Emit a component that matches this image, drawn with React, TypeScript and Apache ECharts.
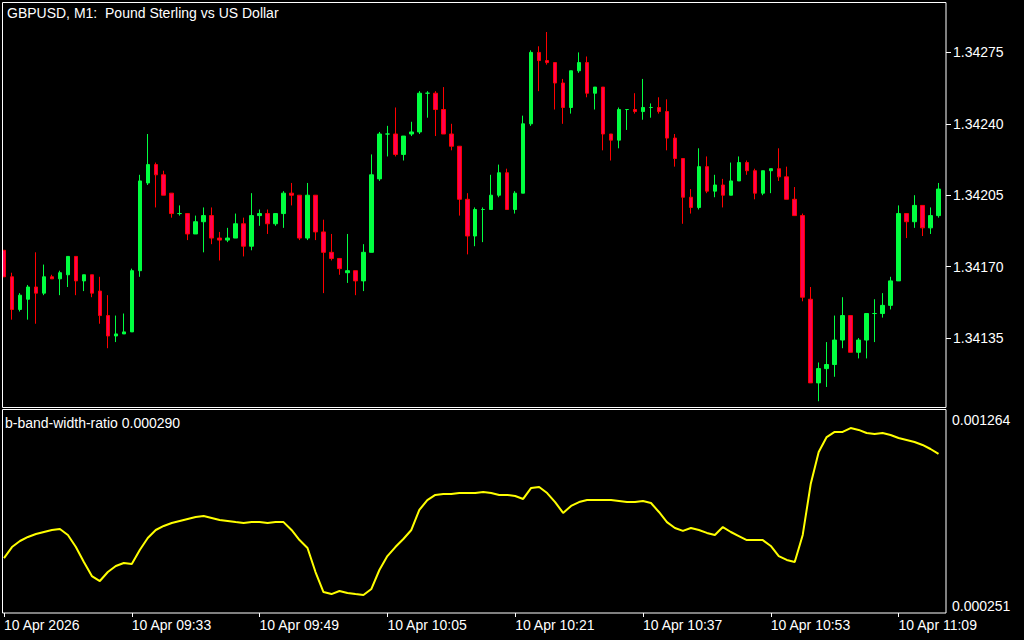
import React, { useEffect, useRef } from 'react';
import * as echarts from 'echarts';

const opens = [1.34178,1.34165,1.34149,1.34154,1.34160,1.34157,1.34165,1.34164,1.34166,1.34175,1.34163,1.34166,1.34158,1.34146,1.34136,1.34137,1.34138,1.34168,1.34211,1.34220,1.34215,1.34206,1.34196,1.34196,1.34186,1.34192,1.34195,1.34184,1.34183,1.34184,1.34191,1.34180,1.34195,1.34196,1.34191,1.34196,1.34206,1.34205,1.34184,1.34205,1.34187,1.34177,1.34174,1.34167,1.34168,1.34163,1.34177,1.34213,1.34235,1.34235,1.34225,1.34235,1.34236,1.34255,1.34255,1.34247,1.34235,1.34229,1.34203,1.34185,1.34198,1.34198,1.34205,1.34216,1.34198,1.34206,1.34240,1.34275,1.34271,1.34270,1.34260,1.34248,1.34266,1.34270,1.34255,1.34258,1.34235,1.34232,1.34247,1.34247,1.34246,1.34248,1.34248,1.34246,1.34233,1.34223,1.34204,1.34199,1.34219,1.34207,1.34210,1.34205,1.34212,1.34221,1.34217,1.34206,1.34217,1.34218,1.34214,1.34203,1.34195,1.34154,1.34113,1.34120,1.34122,1.34134,1.34146,1.34128,1.34134,1.34147,1.34147,1.34151,1.34163,1.34196,1.34192,1.34200,1.34189,1.34195];
const highs = [1.34178,1.34167,1.34157,1.34161,1.34177,1.34171,1.34166,1.34168,1.34175,1.34175,1.34166,1.34166,1.34165,1.34156,1.34146,1.34147,1.34169,1.34215,1.34235,1.34221,1.34217,1.34206,1.34200,1.34196,1.34195,1.34199,1.34199,1.34187,1.34189,1.34196,1.34194,1.34206,1.34198,1.34198,1.34196,1.34207,1.34211,1.34205,1.34211,1.34205,1.34193,1.34186,1.34174,1.34186,1.34168,1.34181,1.34225,1.34236,1.34239,1.34248,1.34234,1.34241,1.34256,1.34256,1.34256,1.34258,1.34240,1.34229,1.34206,1.34199,1.34199,1.34215,1.34220,1.34218,1.34207,1.34244,1.34276,1.34278,1.34285,1.34270,1.34262,1.34266,1.34275,1.34273,1.34258,1.34258,1.34235,1.34248,1.34247,1.34255,1.34262,1.34250,1.34253,1.34252,1.34235,1.34223,1.34208,1.34228,1.34224,1.34215,1.34213,1.34221,1.34224,1.34222,1.34218,1.34217,1.34218,1.34228,1.34219,1.34209,1.34196,1.34160,1.34123,1.34133,1.34146,1.34155,1.34146,1.34135,1.34147,1.34154,1.34157,1.34165,1.34200,1.34196,1.34205,1.34200,1.34199,1.34211];
const lows = [1.34165,1.34144,1.34148,1.34144,1.34142,1.34156,1.34164,1.34156,1.34160,1.34156,1.34158,1.34155,1.34142,1.34130,1.34133,1.34137,1.34138,1.34165,1.34210,1.34199,1.34205,1.34194,1.34195,1.34183,1.34186,1.34177,1.34181,1.34173,1.34182,1.34184,1.34175,1.34178,1.34190,1.34186,1.34190,1.34189,1.34200,1.34183,1.34183,1.34183,1.34157,1.34173,1.34166,1.34162,1.34156,1.34158,1.34177,1.34212,1.34224,1.34224,1.34222,1.34234,1.34235,1.34243,1.34234,1.34235,1.34227,1.34195,1.34176,1.34180,1.34182,1.34198,1.34204,1.34198,1.34196,1.34206,1.34239,1.34256,1.34269,1.34247,1.34240,1.34245,1.34265,1.34253,1.34247,1.34227,1.34222,1.34228,1.34237,1.34245,1.34242,1.34243,1.34245,1.34227,1.34219,1.34191,1.34196,1.34198,1.34206,1.34204,1.34199,1.34205,1.34212,1.34215,1.34203,1.34205,1.34206,1.34212,1.34203,1.34195,1.34153,1.34113,1.34104,1.34111,1.34116,1.34130,1.34128,1.34125,1.34125,1.34133,1.34145,1.34149,1.34163,1.34184,1.34189,1.34185,1.34186,1.34194];
const closes = [1.34165,1.34149,1.34156,1.34160,1.34157,1.34165,1.34164,1.34167,1.34175,1.34163,1.34166,1.34157,1.34146,1.34136,1.34137,1.34138,1.34168,1.34212,1.34220,1.34215,1.34205,1.34196,1.34196,1.34186,1.34192,1.34195,1.34184,1.34183,1.34184,1.34191,1.34180,1.34195,1.34196,1.34191,1.34196,1.34206,1.34205,1.34184,1.34205,1.34187,1.34177,1.34174,1.34169,1.34168,1.34163,1.34177,1.34215,1.34235,1.34235,1.34225,1.34234,1.34236,1.34255,1.34255,1.34247,1.34235,1.34229,1.34203,1.34185,1.34198,1.34198,1.34205,1.34216,1.34198,1.34206,1.34240,1.34275,1.34271,1.34270,1.34260,1.34248,1.34266,1.34270,1.34255,1.34258,1.34235,1.34232,1.34247,1.34247,1.34246,1.34248,1.34248,1.34246,1.34233,1.34223,1.34204,1.34199,1.34219,1.34207,1.34210,1.34205,1.34212,1.34221,1.34217,1.34206,1.34217,1.34218,1.34214,1.34203,1.34195,1.34155,1.34113,1.34120,1.34122,1.34134,1.34146,1.34128,1.34134,1.34147,1.34147,1.34151,1.34163,1.34196,1.34192,1.34200,1.34189,1.34195,1.34208];

const bandRatio = [0.000512,0.000572,0.000605,0.000627,0.000643,0.000654,0.000665,0.000670,0.000638,0.000572,0.000491,0.000414,0.000387,0.000436,0.000469,0.000485,0.000480,0.000556,0.000621,0.000665,0.000687,0.000703,0.000714,0.000725,0.000736,0.000741,0.000730,0.000719,0.000714,0.000708,0.000703,0.000708,0.000708,0.000703,0.000708,0.000708,0.000665,0.000610,0.000567,0.000436,0.000327,0.000316,0.000333,0.000322,0.000316,0.000311,0.000344,0.000447,0.000523,0.000572,0.000616,0.000665,0.000774,0.000828,0.000856,0.000861,0.000861,0.000866,0.000866,0.000866,0.000872,0.000866,0.000856,0.000856,0.000850,0.000834,0.000894,0.000899,0.000866,0.000817,0.000758,0.000796,0.000817,0.000828,0.000828,0.000828,0.000828,0.000823,0.000817,0.000817,0.000823,0.000812,0.000763,0.000708,0.000676,0.000660,0.000676,0.000665,0.000649,0.000638,0.000681,0.000654,0.000632,0.000610,0.000610,0.000610,0.000578,0.000523,0.000502,0.000491,0.000638,0.000915,0.001090,0.001171,0.001199,0.001199,0.001220,0.001210,0.001193,0.001188,0.001193,0.001182,0.001166,0.001155,0.001144,0.001128,0.001106,0.001079];

const START_MINUTE = 9 * 60 + 17;
const times = opens.map((_, i) => {
  const m = START_MINUTE + i;
  return String(Math.floor(m / 60)).padStart(2, '0') + ':' + String(m % 60).padStart(2, '0');
});
const tickTimes = ['09:17', '09:33', '09:49', '10:05', '10:21', '10:37', '10:53', '11:09'];
const tickLabels = ['10 Apr 2026', '10 Apr 09:33', '10 Apr 09:49', '10 Apr 10:05', '10 Apr 10:21', '10 Apr 10:37', '10 Apr 10:53', '10 Apr 11:09'];
const priceTicks = [1.34135, 1.3417, 1.34205, 1.3424, 1.34275];
const ratioTicks = [0.000251, 0.001264];

const TITLE = 'GBPUSD, M1:  Pound Sterling vs US Dollar';
const SUB_TITLE = 'b-band-width-ratio 0.000290';

const PRICE_MIN = 1.3410167;
const PRICE_MAX = 1.3429922;

export default function App() {
  const ref = useRef<HTMLDivElement>(null);
  useEffect(() => {
    const chart = echarts.init(ref.current!, null, { renderer: 'svg' });
    const font = '"Liberation Sans", Arial, sans-serif';
    const candleData = opens.map((o, i) => [o, closes[i], lows[i], highs[i]]);
    const labelMap: Record<string, string> = {};
    tickTimes.forEach((t, k) => (labelMap[t] = tickLabels[k]));
    const isTick = (_i: number, v: string) => labelMap[v] !== undefined;

    chart.setOption({
      animation: false,
      backgroundColor: '#000000',
      grid: [
        { left: -1.5, width: 944, top: 3, height: 403 },
        { left: -1.5, width: 944, top: 420, height: 186 },
      ],
      xAxis: [
        { type: 'category', gridIndex: 0, data: times, show: false, boundaryGap: true },
        {
          type: 'category', gridIndex: 1, data: times, boundaryGap: true, offset: 7,
          axisLine: { show: false },
          axisTick: { show: true, interval: isTick, alignWithLabel: true, length: 4, lineStyle: { color: '#ffffff' } },
          axisLabel: {
            interval: isTick,
            formatter: (v: string) => labelMap[v] || '',
            align: 'left', color: '#ffffff', fontSize: 14, fontFamily: font, margin: 5,
          },
          splitLine: { show: false },
        },
      ],
      yAxis: [
        {
          type: 'value', gridIndex: 0, position: 'right', offset: 3.5,
          min: PRICE_MIN, max: PRICE_MAX, scale: true,
          axisLine: { show: false }, splitLine: { show: false },
          axisTick: { show: true, customValues: priceTicks, length: 5, lineStyle: { color: '#ffffff' } },
          axisLabel: {
            customValues: priceTicks, formatter: (v: number) => v.toFixed(5),
            color: '#ffffff', fontSize: 14, fontFamily: font, margin: 7,
          },
        },
        {
          type: 'value', gridIndex: 1, position: 'right', offset: 3.5,
          min: ratioTicks[0], max: ratioTicks[1],
          axisLine: { show: false }, splitLine: { show: false },
          axisTick: { show: false },
          axisLabel: {
            customValues: ratioTicks, formatter: (v: number) => v.toFixed(6),
            color: '#ffffff', fontSize: 14, fontFamily: font, margin: 6,
          },
        },
      ],
      series: [
        {
          type: 'candlestick', xAxisIndex: 0, yAxisIndex: 0, data: candleData, barWidth: 4,
          itemStyle: {
            color: '#00FF40', color0: '#FF0050',
            borderColor: '#00FF40', borderColor0: '#FF0000', borderWidth: 1,
          },
        },
        {
          type: 'line', xAxisIndex: 1, yAxisIndex: 1, data: bandRatio, symbol: 'none',
          lineStyle: { color: '#FFFF00', width: 2 },
        },
      ],
      graphic: [
        { type: 'rect', z: 90, shape: { x: 0, y: 0, width: 2.5, height: 640 }, style: { fill: '#000000' } },
        { type: 'rect', z: 100, shape: { x: 2.5, y: 2.5, width: 943.5, height: 405 }, style: { fill: 'none', stroke: '#ffffff', lineWidth: 1 } },
        { type: 'rect', z: 100, shape: { x: 2.5, y: 409.5, width: 943.5, height: 203.5 }, style: { fill: 'none', stroke: '#ffffff', lineWidth: 1 } },
        { type: 'text', z: 100, x: 7, y: 13, style: { text: TITLE, fill: '#ffffff', fontSize: 14, fontFamily: font, verticalAlign: 'middle', align: 'left' } },
        { type: 'text', z: 100, x: 5, y: 423, style: { text: SUB_TITLE, fill: '#ffffff', fontSize: 14, fontFamily: font, verticalAlign: 'middle', align: 'left' } },
      ],
    });
    return () => chart.dispose();
  }, []);
  return (
    <div
      ref={ref}
      style={{ position: 'fixed', left: 0, top: 0, width: 1024, height: 640, background: '#000000' }}
    />
  );
}
